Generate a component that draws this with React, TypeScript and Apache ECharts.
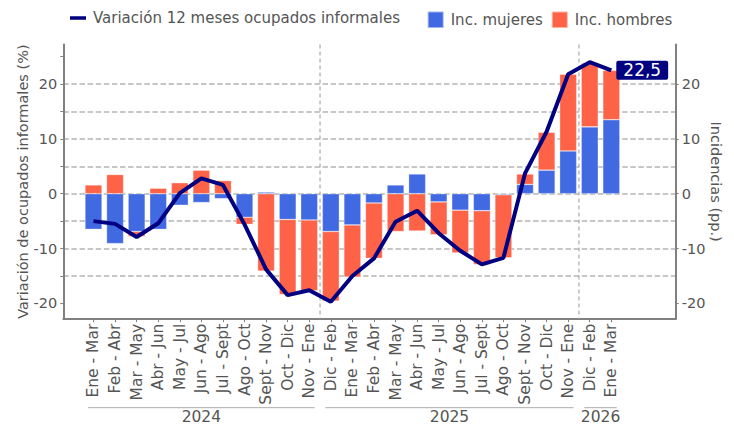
import { useEffect, useRef } from 'react';
import * as echarts from 'echarts';

const categories = [
  'Ene - Mar', 'Feb - Abr', 'Mar - May', 'Abr - Jun', 'May - Jul', 'Jun - Ago', 'Jul - Sept',
  'Ago - Oct', 'Sept - Nov', 'Oct - Dic', 'Nov - Ene',
  'Dic - Feb', 'Ene - Mar', 'Feb - Abr', 'Mar - May', 'Abr - Jun', 'May - Jul', 'Jun - Ago',
  'Jul - Sept', 'Ago - Oct', 'Sept - Nov', 'Oct - Dic', 'Nov - Ene',
  'Dic - Feb', 'Ene - Mar',
];
const yearLabels = ['2024', '2025', '2026'];
const yearCounts = [11, 12, 2];

const mujeres = [-6.5, -9.1, -6.9, -6.5, -2.1, -1.6, -0.9, -4.3, 0.3, -4.7, -4.8, -6.9, -5.7, -1.7, 1.6, 3.6, -1.5, -3.0, -3.1, -0.2, 1.7, 4.3, 7.8, 12.2, 13.5];
const hombres = [1.6, 3.5, -0.9, 1.0, 2.0, 4.3, 2.4, -1.3, -14.1, -13.7, -12.9, -12.7, -9.5, -10.1, -6.9, -6.8, -6.0, -7.8, -9.8, -11.5, 1.9, 6.9, 14.0, 11.6, 9.0];
const variacion = [-5.0, -5.5, -7.9, -5.4, 0.1, 2.8, 1.6, -5.6, -13.8, -18.5, -17.6, -19.7, -15.0, -11.8, -5.1, -3.1, -7.2, -10.4, -12.9, -11.7, 3.7, 11.3, 21.8, 24.0, 22.5];

const yMajorTicks = [-20, -10, 0, 10, 20];
const yMinorTicks = [-20, -15, -10, -5, 0, 5, 10, 15, 20, 25];

const FONT = 'DejaVu Sans';
const TXT = '#555555';
const SPINE = '#808080';
const LINE_NAME = 'Variación 12 meses ocupados informales';

export default function App() {
  const ref = useRef<HTMLDivElement>(null);
  useEffect(() => {
    const chart = echarts.init(ref.current!, null, { renderer: 'svg' });
    const yMin = -22.8;
    const yMax = 27.2;
    const top = 44.6;
    const bottom = 107.3;
    chart.setOption({
      animation: false,
      backgroundColor: '#ffffff',
      textStyle: { fontFamily: FONT },
      legend: [
        {
          data: [LINE_NAME],
          left: 65,
          top: 5.5,
          icon: 'rect',
          itemWidth: 16,
          itemHeight: 3.5,
          textStyle: { fontFamily: FONT, fontSize: 15, color: TXT, padding: [0, 0, 0, 2] },
        },
        {
          data: ['Inc. mujeres', 'Inc. hombres'],
          left: 421.7,
          top: 5.5,
          icon: 'rect',
          itemWidth: 16,
          itemHeight: 16.5,
          itemGap: 8,
          textStyle: { fontFamily: FONT, fontSize: 15, color: TXT, padding: [0, 0, 0, 2] },
        },
      ],
      grid: [
        { left: 63.3, right: 58.3, top, bottom, containLabel: false },
        { left: 82.7, right: 111.9, top, bottom, containLabel: false },
      ],
      xAxis: [
        {
          type: 'value',
          gridIndex: 0,
          min: 0,
          max: 1,
          axisLine: { show: true, onZero: false, lineStyle: { color: SPINE, width: 2 } },
          axisTick: { show: false },
          axisLabel: { show: false },
          splitLine: { show: false },
        },
        {
          type: 'category',
          gridIndex: 1,
          data: categories,
          boundaryGap: true,
          axisLine: { show: false, onZero: false },
          axisTick: { show: true, alignWithLabel: true, length: 3.5, lineStyle: { color: SPINE, width: 1 } },
          axisLabel: {
            interval: 0,
            rotate: 90,
            margin: 5,
            fontSize: 15.5,
            fontFamily: FONT,
            color: TXT,
          },
          splitLine: { show: false },
        },
      ],
      yAxis: [
        {
          type: 'value',
          gridIndex: 0,
          position: 'left',
          min: yMin,
          max: yMax,
          splitNumber: 10,
          name: 'Variación de ocupados informales (%)',
          nameLocation: 'middle',
          nameGap: 33,
          nameMoveOverlap: false,
          nameTextStyle: { fontFamily: FONT, fontSize: 14.5, color: TXT },
          axisLine: { show: true, onZero: false, lineStyle: { color: SPINE, width: 2 } },
          axisTick: { show: true, length: 3, customValues: yMinorTicks, lineStyle: { color: SPINE, width: 1 } },
          axisLabel: { customValues: yMajorTicks, fontSize: 14.5, fontFamily: FONT, color: TXT, margin: 6 },
          splitLine: {
            show: true,
            showMinLine: false,
            showMaxLine: false,
            lineStyle: { color: '#b5b5b5', width: 1.5, type: [5.5, 2.6] },
          },
        },
        {
          type: 'value',
          gridIndex: 0,
          position: 'right',
          min: yMin,
          max: yMax,
          splitNumber: 10,
          name: 'Incidencias (pp.)',
          nameLocation: 'middle',
          nameGap: 32.5,
          nameMoveOverlap: false,
          nameRotate: -90,
          nameTextStyle: { fontFamily: FONT, fontSize: 14.5, color: TXT },
          axisLine: { show: true, onZero: false, lineStyle: { color: SPINE, width: 2 } },
          axisTick: { show: true, length: 3, customValues: yMajorTicks, lineStyle: { color: SPINE, width: 1 } },
          axisLabel: { customValues: yMajorTicks, fontSize: 14.5, fontFamily: FONT, color: TXT, margin: 6 },
          splitLine: { show: false },
        },
        {
          type: 'value',
          gridIndex: 1,
          min: yMin,
          max: yMax,
          show: false,
          splitLine: { show: false },
        },
      ],
      series: [
        {
          name: 'Inc. mujeres',
          type: 'bar',
          xAxisIndex: 1,
          yAxisIndex: 2,
          stack: 'inc',
          barWidth: '79%',
          data: mujeres,
          itemStyle: { color: '#4169E1', borderColor: 'rgba(255,255,255,0.5)', borderWidth: 0.6 },
          z: 3,
        },
        {
          name: 'Inc. hombres',
          type: 'bar',
          xAxisIndex: 1,
          yAxisIndex: 2,
          stack: 'inc',
          barWidth: '79%',
          data: hombres,
          itemStyle: { color: '#FF6347', borderColor: 'rgba(255,255,255,0.5)', borderWidth: 0.6 },
          z: 3,
        },
        {
          name: LINE_NAME,
          type: 'line',
          xAxisIndex: 1,
          yAxisIndex: 2,
          data: variacion,
          symbol: 'none',
          showSymbol: false,
          color: '#000080',
          lineStyle: { color: '#000080', width: 4 },
          z: 5,
          endLabel: {
            show: true,
            distance: 5,
            formatter: (p: any) => Number(p.value).toFixed(1).replace('.', ','),
            color: '#ffffff',
            backgroundColor: '#000080',
            borderRadius: 2,
            padding: [1, 7, 1, 7],
            fontSize: 17,
            fontFamily: FONT,
          },
        },
      ],
    });

    const centers = categories.map((_, i) => chart.convertToPixel({ xAxisIndex: 1 }, i) as number);
    const band = centers[1] - centers[0];
    const yTop = chart.convertToPixel({ yAxisIndex: 2 }, yMax) as number;
    const yBottom = chart.convertToPixel({ yAxisIndex: 2 }, yMin) as number;
    const graphics: any[] = [];
    let start = 0;
    yearCounts.forEach((count, g) => {
      const end = start + count - 1;
      const x1 = centers[start] - band * 0.25;
      const x2 = centers[end] + band * 0.25;
      graphics.push({
        type: 'line',
        silent: true,
        shape: { x1, y1: yBottom + 89, x2, y2: yBottom + 89 },
        style: { stroke: '#aaaaaa', lineWidth: 1 },
      });
      graphics.push({
        type: 'text',
        silent: true,
        x: (x1 + x2) / 2,
        y: yBottom + 98.5,
        style: {
          text: yearLabels[g],
          fill: TXT,
          fontSize: 15.5,
          fontFamily: FONT,
          align: 'center',
          verticalAlign: 'middle',
        },
      });
      if (g < yearCounts.length - 1) {
        const xs = centers[end] + band / 2;
        graphics.push({
          type: 'line',
          silent: true,
          z: 1,
          shape: { x1: xs, y1: yTop, x2: xs, y2: yBottom },
          style: { stroke: '#aaaaaa', lineWidth: 1.2, lineDash: [4, 3] },
        });
      }
      start += count;
    });
    chart.setOption({ graphic: graphics });

    return () => chart.dispose();
  }, []);
  return <div ref={ref} style={{ position: 'absolute', left: 0, top: 0, width: 734, height: 426 }} />;
}
